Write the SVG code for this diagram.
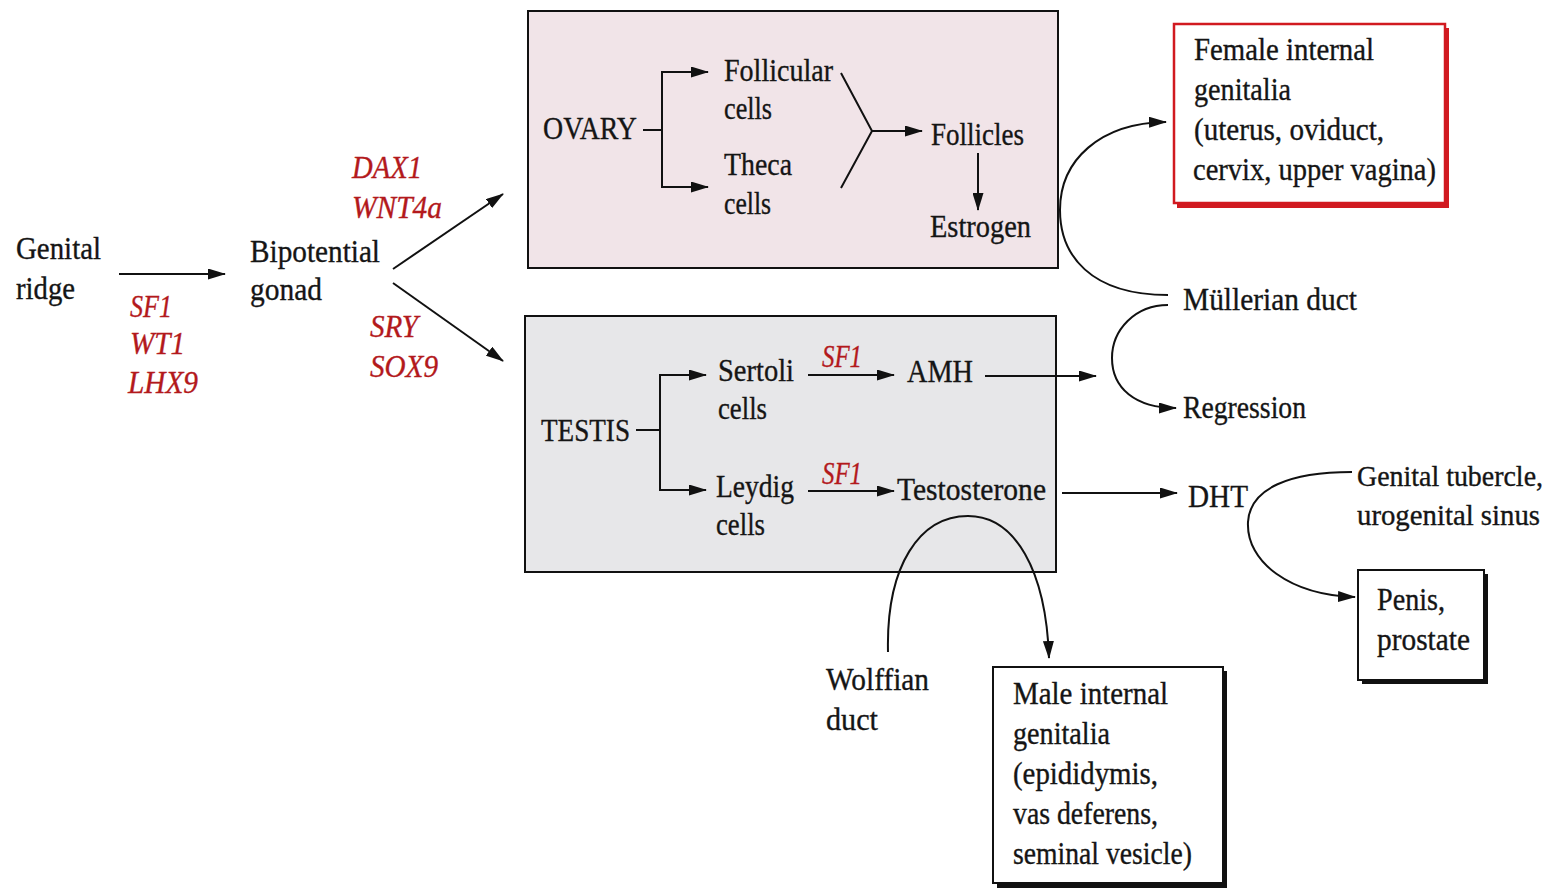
<svg xmlns="http://www.w3.org/2000/svg" width="1560" height="888" viewBox="0 0 1560 888">
<style>
text{font-family:"Liberation Serif","Times New Roman",serif;font-size:32px;fill:#151515;stroke:#151515;stroke-width:0.35}
.g{fill:#b3191c;stroke:#b3191c;font-style:italic}
.sm{font-size:29px}
.ln{fill:none;stroke:#111;stroke-width:2}
.arr{fill:none;stroke:#111;stroke-width:2;marker-end:url(#ah)}
</style>
<defs>
<marker id="ah" viewBox="0 0 18 11" refX="17" refY="5.5" markerWidth="18" markerHeight="11" orient="auto" markerUnits="userSpaceOnUse"><path d="M0,0 L18,5.5 L0,11 Z" fill="#111"/></marker>
</defs>
<rect width="1560" height="888" fill="#fff"/>

<g id="genital-ridge">
<text x="16" y="259" textLength="85" lengthAdjust="spacingAndGlyphs">Genital</text>
<text x="16" y="299" textLength="59" lengthAdjust="spacingAndGlyphs">ridge</text>
</g>
<g id="genes-1">
<text class="g" x="130" y="317" textLength="42" lengthAdjust="spacingAndGlyphs">SF1</text>
<text class="g" x="130" y="354" textLength="55" lengthAdjust="spacingAndGlyphs">WT1</text>
<text class="g" x="128" y="393" textLength="70" lengthAdjust="spacingAndGlyphs">LHX9</text>
</g>
<g id="bipotential-gonad">
<text x="250" y="262" textLength="130" lengthAdjust="spacingAndGlyphs">Bipotential</text>
<text x="250" y="300" textLength="72" lengthAdjust="spacingAndGlyphs">gonad</text>
</g>
<g id="genes-female">
<text class="g" x="352" y="178" textLength="70" lengthAdjust="spacingAndGlyphs">DAX1</text>
<text class="g" x="352" y="218" textLength="90" lengthAdjust="spacingAndGlyphs">WNT4a</text>
</g>
<g id="genes-male">
<text class="g" x="370" y="337" textLength="48" lengthAdjust="spacingAndGlyphs">SRY</text>
<text class="g" x="370" y="377" textLength="68" lengthAdjust="spacingAndGlyphs">SOX9</text>
</g>

<g id="ovary">
<rect x="528" y="11" width="530" height="257" fill="#f1e4e8" stroke="#111" stroke-width="2"/>
<text x="543" y="139" textLength="94" lengthAdjust="spacingAndGlyphs">OVARY</text>
<text x="724" y="81" textLength="109" lengthAdjust="spacingAndGlyphs">Follicular</text>
<text x="724" y="119" textLength="48" lengthAdjust="spacingAndGlyphs">cells</text>
<text x="724" y="175" textLength="68" lengthAdjust="spacingAndGlyphs">Theca</text>
<text x="724" y="214" textLength="47" lengthAdjust="spacingAndGlyphs">cells</text>
<text x="931" y="145" textLength="93" lengthAdjust="spacingAndGlyphs">Follicles</text>
<text x="930" y="237" textLength="101" lengthAdjust="spacingAndGlyphs">Estrogen</text>
</g>

<g id="testis">
<rect x="525" y="316" width="531" height="256" fill="#e7e7e9" stroke="#111" stroke-width="2"/>
<text x="541" y="441" textLength="89" lengthAdjust="spacingAndGlyphs">TESTIS</text>
<text x="718" y="381" textLength="76" lengthAdjust="spacingAndGlyphs">Sertoli</text>
<text x="718" y="419" textLength="49" lengthAdjust="spacingAndGlyphs">cells</text>
<text x="716" y="497" textLength="78" lengthAdjust="spacingAndGlyphs">Leydig</text>
<text x="716" y="535" textLength="49" lengthAdjust="spacingAndGlyphs">cells</text>
<text class="g" x="822" y="367" textLength="40" lengthAdjust="spacingAndGlyphs">SF1</text>
<text class="g" x="822" y="484" textLength="40" lengthAdjust="spacingAndGlyphs">SF1</text>
<text x="907" y="382" textLength="66" lengthAdjust="spacingAndGlyphs">AMH</text>
<text x="897" y="500" textLength="149" lengthAdjust="spacingAndGlyphs">Testosterone</text>
</g>

<g id="female-internal">
<rect x="1177" y="28" width="272" height="180" fill="#d11a20"/>
<rect x="1174" y="24" width="271" height="179" fill="#fff" stroke="#d11a20" stroke-width="2.5"/>
<text x="1194" y="60" textLength="180" lengthAdjust="spacingAndGlyphs">Female internal</text>
<text x="1194" y="100" textLength="97" lengthAdjust="spacingAndGlyphs">genitalia</text>
<text x="1194" y="140" textLength="190" lengthAdjust="spacingAndGlyphs">(uterus, oviduct,</text>
<text x="1193" y="180" textLength="243" lengthAdjust="spacingAndGlyphs">cervix, upper vagina)</text>
</g>

<g id="mullerian-duct">
<text x="1183" y="310" textLength="174" lengthAdjust="spacingAndGlyphs">Müllerian duct</text>
</g>
<g id="regression">
<text x="1183" y="418" textLength="123" lengthAdjust="spacingAndGlyphs">Regression</text>
</g>
<g id="dht">
<text x="1188" y="507" textLength="60" lengthAdjust="spacingAndGlyphs">DHT</text>
</g>
<g id="genital-tubercle">
<text class="sm" x="1357" y="486" textLength="186" lengthAdjust="spacingAndGlyphs">Genital tubercle,</text>
<text class="sm" x="1357" y="525" textLength="183" lengthAdjust="spacingAndGlyphs">urogenital sinus</text>
</g>
<g id="penis-prostate">
<rect x="1362" y="574" width="126" height="110" fill="#111"/>
<rect x="1358" y="570" width="126" height="110" fill="#fff" stroke="#111" stroke-width="2"/>
<text x="1377" y="610" textLength="68" lengthAdjust="spacingAndGlyphs">Penis,</text>
<text x="1377" y="650" textLength="93" lengthAdjust="spacingAndGlyphs">prostate</text>
</g>
<g id="wolffian-duct">
<text x="826" y="690" textLength="103" lengthAdjust="spacingAndGlyphs">Wolffian</text>
<text x="826" y="730" textLength="52" lengthAdjust="spacingAndGlyphs">duct</text>
</g>
<g id="male-internal">
<rect x="997" y="671" width="230" height="217" fill="#111"/>
<rect x="993" y="667" width="230" height="216" fill="#fff" stroke="#111" stroke-width="2"/>
<text x="1013" y="704" textLength="155" lengthAdjust="spacingAndGlyphs">Male internal</text>
<text x="1013" y="744" textLength="97" lengthAdjust="spacingAndGlyphs">genitalia</text>
<text x="1013" y="784" textLength="145" lengthAdjust="spacingAndGlyphs">(epididymis,</text>
<text x="1013" y="824" textLength="145" lengthAdjust="spacingAndGlyphs">vas deferens,</text>
<text x="1013" y="864" textLength="179" lengthAdjust="spacingAndGlyphs">seminal vesicle)</text>
</g>

<g id="connectors">
<line class="arr" x1="119" y1="274" x2="225" y2="274"/>
<line class="arr" x1="393" y1="269" x2="503" y2="194"/>
<line class="arr" x1="393" y1="283" x2="503" y2="361"/>
<line class="ln" x1="643" y1="130" x2="662" y2="130"/>
<polyline class="ln" points="700,72 662,72 662,187 700,187"/>
<line class="arr" x1="662" y1="72" x2="708" y2="72"/>
<line class="arr" x1="662" y1="187" x2="708" y2="187"/>
<polyline class="ln" points="841,73 872,131 841,188"/>
<line class="arr" x1="872" y1="131" x2="922" y2="131"/>
<line class="arr" x1="978" y1="153" x2="978" y2="210"/>
<line class="ln" x1="636" y1="430" x2="660" y2="430"/>
<polyline class="ln" points="700,375 660,375 660,490 700,490"/>
<line class="arr" x1="660" y1="375" x2="706" y2="375"/>
<line class="arr" x1="660" y1="490" x2="706" y2="490"/>
<line class="arr" x1="808" y1="375" x2="894" y2="375"/>
<line class="arr" x1="808" y1="491" x2="894" y2="491"/>
<line class="arr" x1="985" y1="376" x2="1096" y2="376"/>
<line class="arr" x1="1062" y1="493" x2="1177" y2="493"/>
<path class="arr" d="M1168,295 C1090,295 1060,255 1060,210 C1060,160 1100,123 1166,122"/>
<path class="arr" d="M1168,305 C1135,305 1112,330 1112,358 C1112,388 1135,408 1176,408"/>
<path class="arr" d="M888,652 C886,565 920,516 968,516 C1015,516 1046,570 1049,658"/>
<path class="arr" d="M1352,472 C1290,472 1250,488 1248,522 C1246,562 1290,595 1355,597"/>
</g>
</svg>
